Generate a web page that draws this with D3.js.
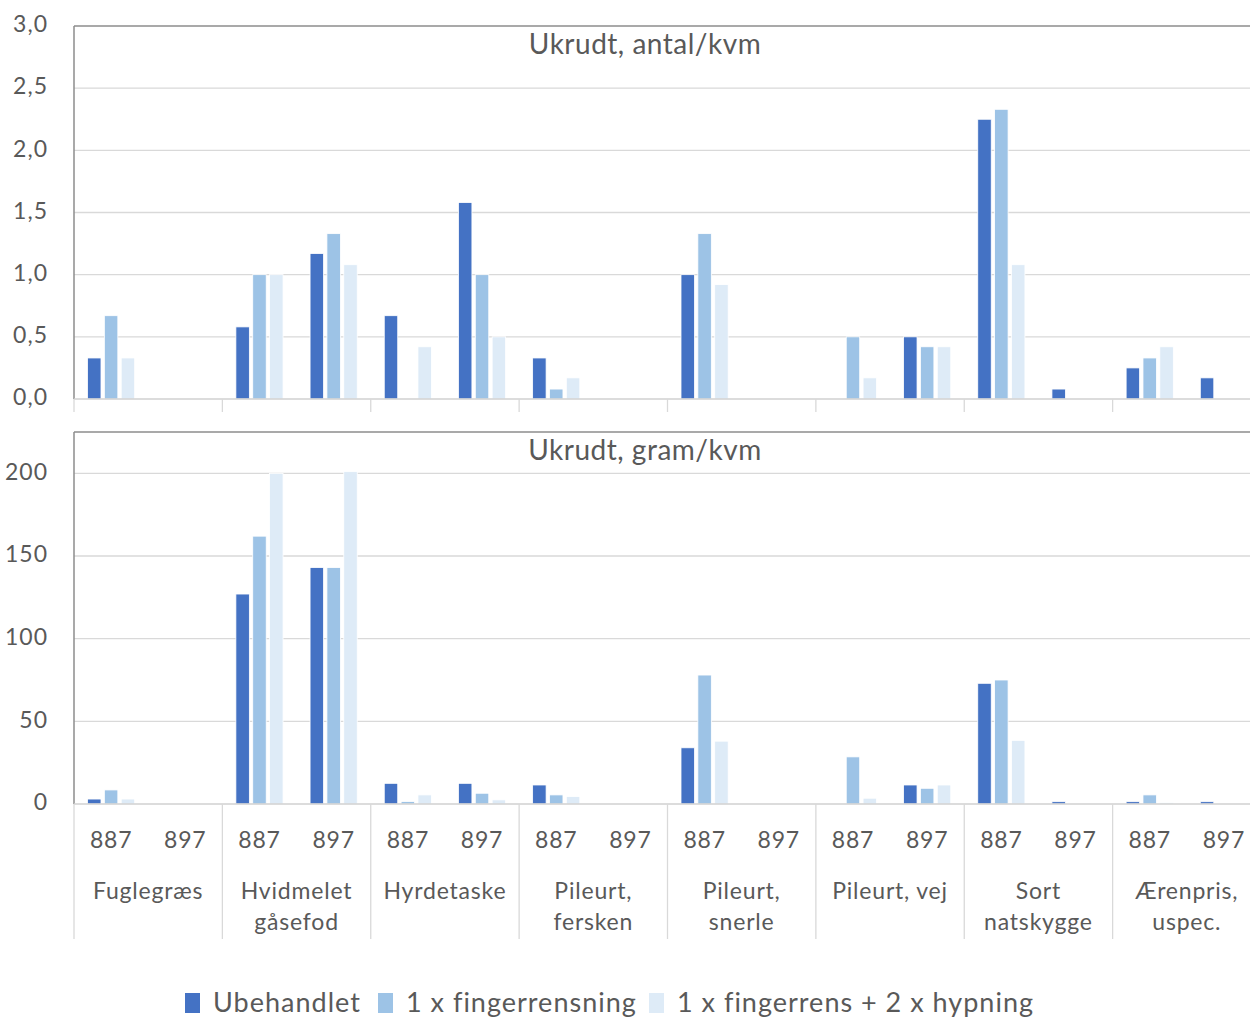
<!DOCTYPE html>
<html lang="da">
<head>
<meta charset="UTF-8">
<script src="https://d3js.org/d3.v7.min.js"></script>
<style>
  body { margin: 0; background: #fff; }
  text { font-family: Lato, "Open Sans", sans-serif; fill: #595959; }
</style>
</head>
<body>
<svg id="chart" width="1250" height="1019"></svg>
<script>
// data
const groups = ["Fuglegræs", "Hvidmelet\ngåsefod", "Hyrdetaske", "Pileurt,\nfersken",
                "Pileurt,\nsnerle", "Pileurt, vej", "Sort\nnatskygge", "Ærenpris,\nuspec."];
const subs = ["887", "897"];
const seriesNames = ["Ubehandlet", "1 x fingerrensning", "1 x fingerrens + 2 x hypning"];
const colors = ["#4472C4", "#9DC3E6", "#DEEBF7"];

// antal/kvm, one entry per group+sub (16), per series
const antalUbeh  = [0.33, 0, 0.58, 1.17, 0.67, 1.58, 0.33, 0, 1.0, 0, 0, 0.5, 2.25, 0.08, 0.25, 0.17];
const antalFing  = [0.67, 0, 1.0, 1.33, 0, 1.0, 0.08, 0, 1.33, 0, 0.5, 0.42, 2.33, 0, 0.33, 0];
const antalHyp   = [0.33, 0, 1.0, 1.08, 0.42, 0.5, 0.17, 0, 0.92, 0, 0.17, 0.42, 1.08, 0, 0.42, 0];
// gram/kvm
const gramUbeh   = [3, 0, 127, 143, 12.5, 12.5, 11.5, 0, 34, 0, 0, 11.5, 73, 1.4, 1.4, 1.4];
const gramFing   = [8.5, 0, 162, 143, 1.5, 6.5, 5.5, 0, 78, 0, 28.5, 9.5, 75, 0, 5.5, 0];
const gramHyp    = [3, 0, 200, 201, 5.5, 2.5, 4.5, 0, 38, 0, 3.5, 11.5, 38.5, 0, 0.8, 0];

const antalTicks = [0, 0.5, 1, 1.5, 2, 2.5, 3];
const gramTicks = [0, 50, 100, 150, 200];

const svg = d3.select("#chart");
const left = 74, right = 1261;

const keys = [];
groups.forEach(g => subs.forEach(s => keys.push(g + "|" + s)));

const x = d3.scaleBand().domain(keys).range([left, right]);
const xg = d3.scaleBand().domain(groups).range([left, right]);
const xs = d3.scaleBand().domain(d3.range(3)).range([13.5, x.bandwidth() - 13.5]).paddingInner(0.2);

const drawPanel = (top, bottom, maxV, ticks, fmt, title, series) => {
    const y = d3.scaleLinear().domain([0, maxV]).range([bottom, top]);
    const g = svg.append("g");

    // gridlines
    g.selectAll(".grid").data(ticks.filter(t => t > 0 && y(t) > top + 1))
        .join("line")
        .attr("x1", left).attr("x2", 1250)
        .attr("y1", d => y(d)).attr("y2", d => y(d))
        .attr("stroke", "#d9d9d9").attr("stroke-width", 1.3);

    // y axis labels
    const yAxis = d3.axisLeft(y).tickValues(ticks).tickSize(0).tickPadding(26).tickFormat(fmt);
    const ya = g.append("g").attr("transform", `translate(${left},0)`).call(yAxis);
    ya.select(".domain").remove();
    ya.selectAll("text").attr("font-size", 23).attr("fill", "#595959")
        .attr("letter-spacing", 1).attr("dy", "0.25em")
        .style("font-family", "Lato, 'Open Sans', sans-serif");

    // bars
    series.forEach((vals, si) => {
        g.selectAll(".b" + si).data(vals)
            .join("rect")
            .attr("x", (d, i) => x(keys[i]) + xs(si))
            .attr("width", xs.bandwidth())
            .attr("y", d => y(d))
            .attr("height", d => bottom - y(d))
            .attr("fill", colors[si])
            .attr("stroke", "#fff").attr("stroke-width", 0.8);
    });

    // frame: top and left lines, baseline
    g.append("line").attr("x1", left).attr("x2", 1250).attr("y1", top).attr("y2", top)
        .attr("stroke", "#8c8c8c").attr("stroke-width", 1.5);
    g.append("line").attr("x1", left).attr("x2", left).attr("y1", top).attr("y2", bottom)
        .attr("stroke", "#8c8c8c").attr("stroke-width", 1.5);
    g.append("line").attr("x1", left).attr("x2", 1250).attr("y1", bottom).attr("y2", bottom)
        .attr("stroke", "#d0d0d0").attr("stroke-width", 1.5);

    g.append("text").attr("x", 645).attr("y", top + 28)
        .attr("text-anchor", "middle").attr("font-size", 28).attr("letter-spacing", 0.5)
        .text(title);
    return y;
};

drawPanel(26, 399, 3, antalTicks, d => d3.format(".1f")(d).replace(".", ","),
    "Ukrudt, antal/kvm", [antalUbeh, antalFing, antalHyp]);
drawPanel(432, 804, 225, gramTicks, d => d,
    "Ukrudt, gram/kvm", [gramUbeh, gramFing, gramHyp]);

// small ticks under the top panel
svg.append("g").selectAll("line").data(groups)
    .join("line")
    .attr("x1", d => xg(d)).attr("x2", d => xg(d))
    .attr("y1", 399).attr("y2", 412)
    .attr("stroke", "#d9d9d9").attr("stroke-width", 1.3);

// bottom category axis
const cat = svg.append("g");
cat.selectAll("line").data(groups)
    .join("line")
    .attr("x1", d => xg(d)).attr("x2", d => xg(d))
    .attr("y1", 804).attr("y2", 939)
    .attr("stroke", "#d9d9d9").attr("stroke-width", 1.3);

cat.selectAll(".sub").data(keys)
    .join("text")
    .attr("x", d => x(d) + x.bandwidth() / 2)
    .attr("y", 848)
    .attr("text-anchor", "middle").attr("font-size", 23).attr("letter-spacing", 0.8)
    .text(d => d.split("|")[1]);

cat.selectAll(".grp").data(groups)
    .join("text")
    .attr("x", d => xg(d) + xg.bandwidth() / 2)
    .attr("y", 899)
    .attr("text-anchor", "middle").attr("font-size", 23).attr("letter-spacing", 0.8)
    .each(function (d) {
        const t = d3.select(this);
        d.split("\n").forEach((line, i) => {
            t.append("tspan").attr("x", xg(d) + xg.bandwidth() / 2)
                .attr("dy", i === 0 ? 0 : 31).text(line);
        });
    });

// legend
const legendX = [185, 378, 649];
const lg = svg.append("g");
seriesNames.forEach((name, i) => {
    lg.append("rect").attr("x", legendX[i]).attr("y", 993).attr("width", 15).attr("height", 20)
        .attr("fill", colors[i]);
    lg.append("text").attr("x", legendX[i] + 28).attr("y", 1012)
        .attr("font-size", 27).attr("letter-spacing", 1).text(name);
});
</script>
</body>
</html>
